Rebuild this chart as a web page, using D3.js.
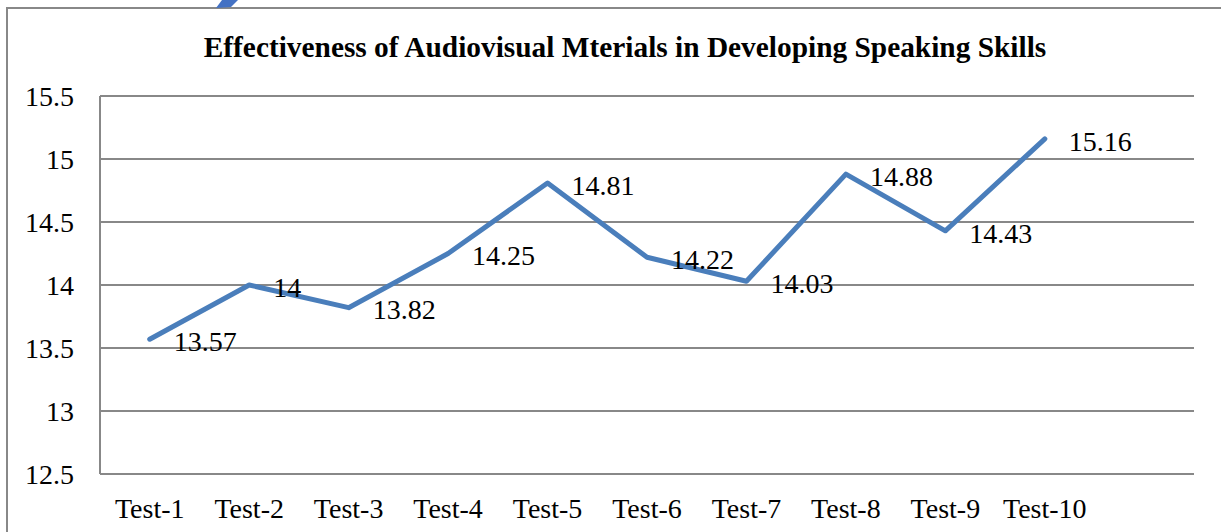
<!DOCTYPE html>
<html>
<head>
<meta charset="utf-8">
<script src="https://cdn.jsdelivr.net/npm/d3@7"></script>
</head>
<body style="margin:0;padding:0;background:#fff">
<svg id="chart" width="1221" height="532" style="display:block"></svg>
<script>
const title = "Effectiveness of Audiovisual Mterials in Developing Speaking Skills";
const categories = ["Test-1","Test-2","Test-3","Test-4","Test-5","Test-6","Test-7","Test-8","Test-9","Test-10"];
const values = [13.57, 14, 13.82, 14.25, 14.81, 14.22, 14.03, 14.88, 14.43, 15.16];
const yTicks = [12.5, 13, 13.5, 14, 14.5, 15, 15.5];

const FONT = "Liberation Serif";
const svg = d3.select("#chart");
const W = 1221, H = 532;
const plotL = 100, plotR = 1194, plotT = 96, plotB = 474;

// outer frame
svg.append("rect").attr("x", 7).attr("y", 8).attr("width", W + 20).attr("height", H + 20)
  .attr("fill", "#fff").attr("stroke", "#888").attr("stroke-width", 2);

// small blue shape at top (from source image)
svg.append("path").attr("d", "M216,8 L222,0 L238,0 L231,7 Z").attr("fill", "#4472C4");

const x = d3.scaleBand().domain(categories)
  .range([plotL, plotL + (plotR - plotL) * 10 / 11]);
const y = d3.scaleLinear().domain([12.5, 15.5]).range([plotB, plotT]);
const cx = c => x(c) + x.bandwidth() / 2;

// gridlines
svg.append("g").selectAll("line").data(yTicks).join("line")
  .attr("x1", plotL).attr("x2", plotR)
  .attr("y1", d => y(d)).attr("y2", d => y(d))
  .attr("stroke", "#888").attr("stroke-width", 2);

// left axis line
svg.append("line").attr("x1", plotL).attr("x2", plotL).attr("y1", plotT).attr("y2", plotB)
  .attr("stroke", "#888").attr("stroke-width", 2);

// y tick labels
svg.append("g").selectAll("text").data(yTicks).join("text")
  .attr("x", 74).attr("y", d => y(d)).attr("dy", "0.35em")
  .attr("text-anchor", "end")
  .style("font-family", FONT).style("font-size", "28px")
  .text(d => d3.format("~g")(d));

// x labels
svg.append("g").selectAll("text").data(categories).join("text")
  .attr("x", d => cx(d)).attr("y", 518)
  .attr("text-anchor", "middle")
  .style("font-family", FONT).style("font-size", "28px")
  .text(d => d);

// title
const t = svg.append("text").attr("x", 625).attr("y", 57).attr("text-anchor", "middle")
  .style("font-family", FONT).style("font-weight", "bold").style("font-size", "100px").text(title);
const len = t.node().getComputedTextLength();
t.style("font-size", (100 * 843 / len) + "px");

// line
const line = d3.line().x((d, i) => cx(categories[i])).y(d => y(d));
svg.append("path").datum(values).attr("d", line)
  .attr("fill", "none").attr("stroke", "#4A7EBB").attr("stroke-width", 5)
  .attr("stroke-linejoin", "round").attr("stroke-linecap", "round");

// data labels
svg.append("g").selectAll("text").data(values).join("text")
  .attr("x", (d, i) => cx(categories[i]) + 24)
  .attr("y", d => y(d) + 2).attr("dy", "0.35em")
  .style("font-family", FONT).style("font-size", "28px")
  .text(d => d3.format("~g")(d));
</script>
</body>
</html>
